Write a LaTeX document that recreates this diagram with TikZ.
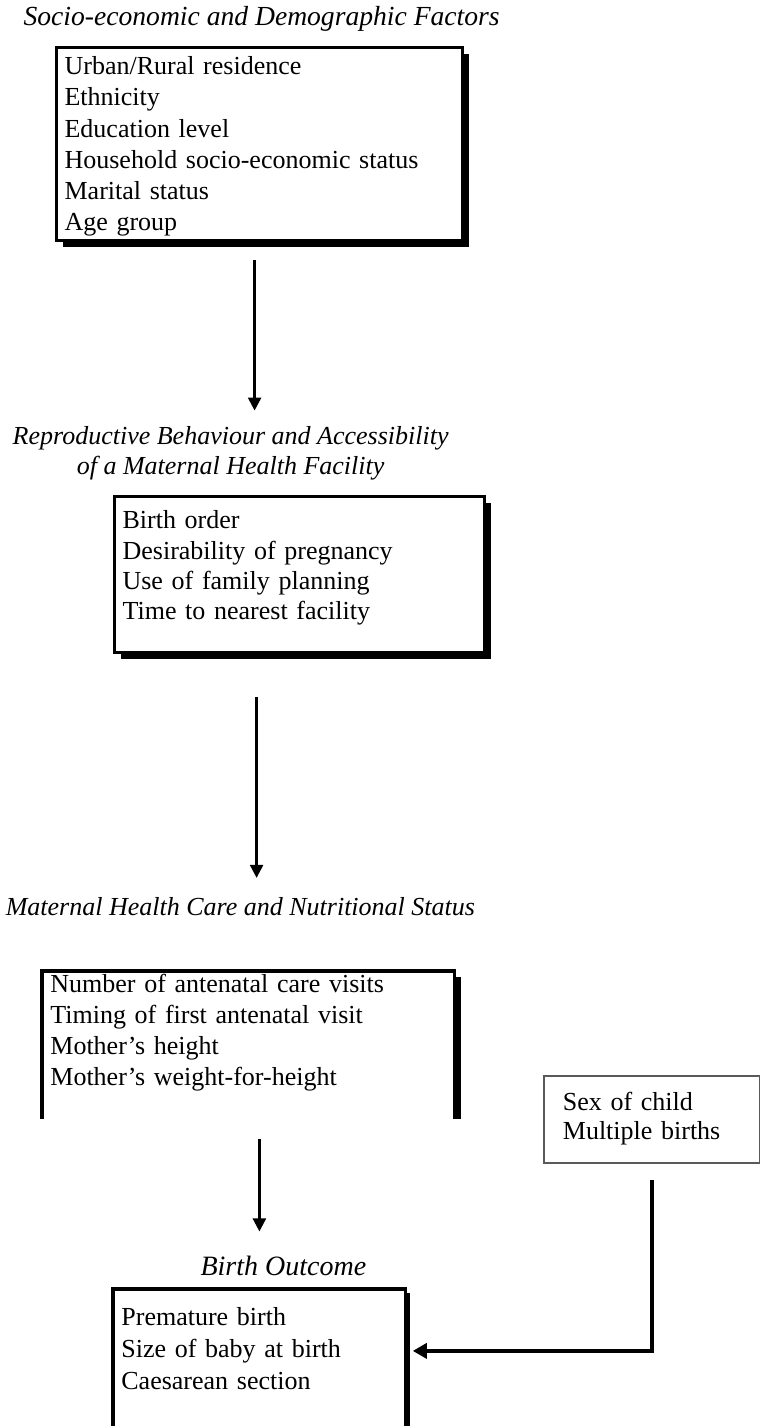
\documentclass[tikz,border=0pt]{standalone}
\usepackage{fontspec}
\setmainfont{Liberation Serif}
\usetikzlibrary{arrows.meta, positioning, shadows, calc}

\begin{document}
\begin{tikzpicture}[
    x=0.5pt, y=-0.5pt,
    font=\fontsize{13}{16}\selectfont,
    % --- Styles ---
    heading/.style={
        font=\fontsize{13}{15}\selectfont\itshape,
        align=center, inner sep=0pt
    },
    factorbox/.style={
        rectangle, anchor=north west, align=left,
        inner xsep=4pt, inner ysep=0pt,
        draw=black, line width=1.6pt, fill=white,
        drop shadow={shadow xshift=3pt, shadow yshift=-3pt, fill=black, opacity=1}
    },
    openbox/.style={
        rectangle, anchor=north west, align=left,
        inner xsep=4pt, inner ysep=0pt
    },
    frame/.style={draw=black, line width=1.6pt},
    sidebox/.style={
        rectangle, anchor=north west, align=left,
        inner xsep=9.5pt, inner ysep=0pt, draw=black!65, line width=0.9pt
    },
    arrow/.style={-{Triangle[width=6.5pt, length=6.5pt]}, line width=1.2pt},
    sidearrow/.style={-{Triangle[width=7.5pt, length=7pt]}, line width=2pt}
]

    % ── Page ────────────────────────────────────────────────────────────
    \useasboundingbox (0,0) rectangle (760,1426);
    \clip (0,0) rectangle (760,1426);

    % ── NODES ───────────────────────────────────────────────────────────

    % Socio-economic factors
    \node (social) [factorbox, text width=195pt, text height=13.5pt, text depth=83pt,
                    font=\fontsize{13}{15.6}\selectfont] at (55,46)
        {Urban/Rural residence\\ Ethnicity\\ Education level\\
         Household socio-economic status\\ Marital status\\ Age group};
    \node (socialtitle) [heading, font=\fontsize{13.8}{15}\selectfont\itshape,
                         above=7pt of social, xshift=1pt]
        {Socio-economic and Demographic Factors};

    % Reproductive behaviour
    \node (reprobox) [factorbox, text width=177pt, text height=16pt, text depth=62pt,
                      font=\fontsize{13}{15.2}\selectfont] at (113,495)
        {Birth order\\ Desirability of pregnancy\\ Use of family planning\\
         Time to nearest facility};
    \node (reprotitle) [heading, above=7.5pt of reprobox, xshift=-34.5pt]
        {Reproductive Behaviour and Accessibility\\ of a Maternal Health Facility};

    % Maternal health care (frame open at the bottom)
    \node (mhcbox) [openbox, text width=198pt, text height=10.5pt, text depth=63pt,
                    font=\fontsize{13}{15.5}\selectfont] at (42,971)
        {Number of antenatal care visits\\ Timing of first antenatal visit\\
         Mother's height\\ Mother's weight-for-height};
    \node (mhctitle) [heading, above=27.5pt of mhcbox, xshift=-4pt]
        {Maternal Health Care and Nutritional Status};

    % Birth outcome (runs off the page)
    \node (outcomebox) [openbox, text width=138pt, text height=18pt, text depth=57.5pt,
                        font=\fontsize{13}{16}\selectfont] at (113,1289)
        {Premature birth\\ Size of baby at birth\\ Caesarean section};
    \node (outcometitle) [heading, font=\fontsize{14}{15}\selectfont\itshape,
                          above=6.5pt of outcomebox, xshift=12pt]
        {Birth Outcome};

    % Child factors
    \node (sexbox) [sidebox, text width=89pt, text height=17.5pt, text depth=26pt,
                    font=\fontsize{13}{14.5}\selectfont] at (543,1075)
        {Sex of child\\ Multiple births};

    % ── OPEN FRAMES ─────────────────────────────────────────────────────
    \fill ([yshift=-3pt]mhcbox.north east) rectangle ($(mhcbox.south east)+(3pt,0)$);
    \draw [frame] (mhcbox.south west) |- (mhcbox.north east) -- (mhcbox.south east);

    \fill ([yshift=-2pt]outcomebox.north east) rectangle ($(outcomebox.south east)+(2pt,0)$);
    \draw [frame] (outcomebox.south west) |- (outcomebox.north east) -- (outcomebox.south east);

    % ── ARROWS ──────────────────────────────────────────────────────────
    \draw [arrow, shorten <=9pt, shorten >=7.5pt]
        ($(social.south)+(-2.5pt,0)$) -- ($(social.south |- reprotitle.north)+(-2.5pt,0)$);
    \draw [arrow, shorten <=21.5pt, shorten >=9.5pt]
        ($(reprobox.south -| social.south)+(-1.5pt,0)$) -- ($(mhctitle.north -| social.south)+(-1.5pt,0)$);
    \draw [arrow, shorten <=10pt, shorten >=12pt]
        (outcomebox.north |- mhcbox.south) -- (outcomebox.north |- outcometitle.north);

    % Child factors → birth outcome
    \draw [sidearrow, shorten <=8pt, shorten >=3.5pt]
        (sexbox.south) |- ([yshift=7pt]outcomebox.east);

\end{tikzpicture}
\end{document}
